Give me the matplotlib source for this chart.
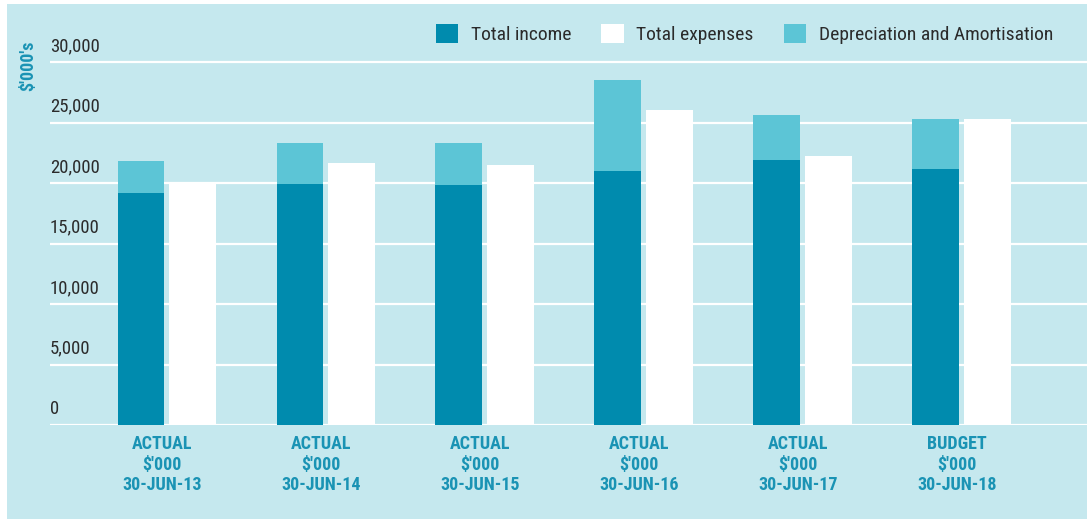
import numpy as np
import matplotlib.pyplot as plt
from matplotlib.patches import Patch, Rectangle
from matplotlib import font_manager

# Chart data ($'000)
periods = ["ACTUAL\n\\$'000\n30-JUN-13", "ACTUAL\n\\$'000\n30-JUN-14", "ACTUAL\n\\$'000\n30-JUN-15",
           "ACTUAL\n\\$'000\n30-JUN-16", "ACTUAL\n\\$'000\n30-JUN-17", "BUDGET\n\\$'000\n30-JUN-18"]
total_income = [19200, 19900, 19800, 21000, 21900, 21150]
depreciation = [2600, 3400, 3500, 7500, 3700, 4150]
total_expenses = [20100, 21650, 21500, 26050, 22250, 25300]
y_ticks = [0, 5000, 10000, 15000, 20000, 25000, 30000]

# Colours
BG = "#C5E8EE"
INCOME = "#008BAE"
DEPREC = "#5CC5D6"
TEAL_TEXT = "#1A93B4"
DARK_TEXT = "#2B2B2B"

# Pick a narrow font if there is one
names = {f.name for f in font_manager.fontManager.ttflist}
FONT = [n for n in ["Roboto Condensed", "Archivo Narrow", "Asap Condensed"] if n in names][:1] + ["DejaVu Sans"]
plt.rcParams["font.family"] = FONT

fig = plt.figure(figsize=(10.87, 5.19), dpi=100)
fig.patch.set_facecolor("white")
# light panel behind everything
fig.patches.append(Rectangle((7 / 1087, 0), 1 - 7 / 1087, 1 - 4 / 519,
                             transform=fig.transFigure, facecolor=BG, edgecolor="none", zorder=-10))

ax = fig.add_axes([50 / 1087, 94 / 519, 1037 / 1087, 370 / 519])
ax.set_facecolor("none")

x = np.arange(len(periods))
w = 0.295
off = 0.163
ax.bar(x - off, total_income, w, color=INCOME, zorder=3)
ax.bar(x - off, depreciation, w, bottom=total_income, color=DEPREC, zorder=3)
ax.bar(x + off, total_expenses, w, color="white", zorder=3)

ax.set_xlim(-0.736, 5.79)
ax.set_ylim(0, 30000 * 370 / 363)

# white gridlines incl. the zero line
for v in y_ticks:
    ax.axhline(v, color="white", lw=1.6, zorder=1)
    ax.annotate(f"{v:,}", xy=(0, v), xycoords=("axes fraction", "data"),
                xytext=(0, 7), textcoords="offset pixels", ha="left", va="bottom",
                fontsize=13.5, color=DARK_TEXT)

ax.set_yticks([])
ax.set_xticks(x - 0.03)
ax.set_xticklabels(periods, fontsize=13, fontweight="bold", color=TEAL_TEXT, linespacing=1.2)
ax.tick_params(axis="x", length=0, pad=7)
for s in ax.spines.values():
    s.set_visible(False)

fig.text(28 / 1087, 1 - 66 / 519, "\\$'000's", rotation=90, ha="center", va="center",
         fontsize=13, fontweight="bold", color=TEAL_TEXT)

handles = [Patch(facecolor=INCOME, label="Total income"),
           Patch(facecolor="white", label="Total expenses"),
           Patch(facecolor=DEPREC, label="Depreciation and Amortisation")]
fig.legend(handles=handles, ncol=3, loc="center right", bbox_to_anchor=(1063 / 1087, 1 - 34 / 519),
           frameon=False, fontsize=14, handlelength=1.15, handleheight=1.15,
           handletextpad=0.65, columnspacing=1.55, labelcolor=DARK_TEXT, borderpad=0)

fig.savefig("out.png", dpi=100)
